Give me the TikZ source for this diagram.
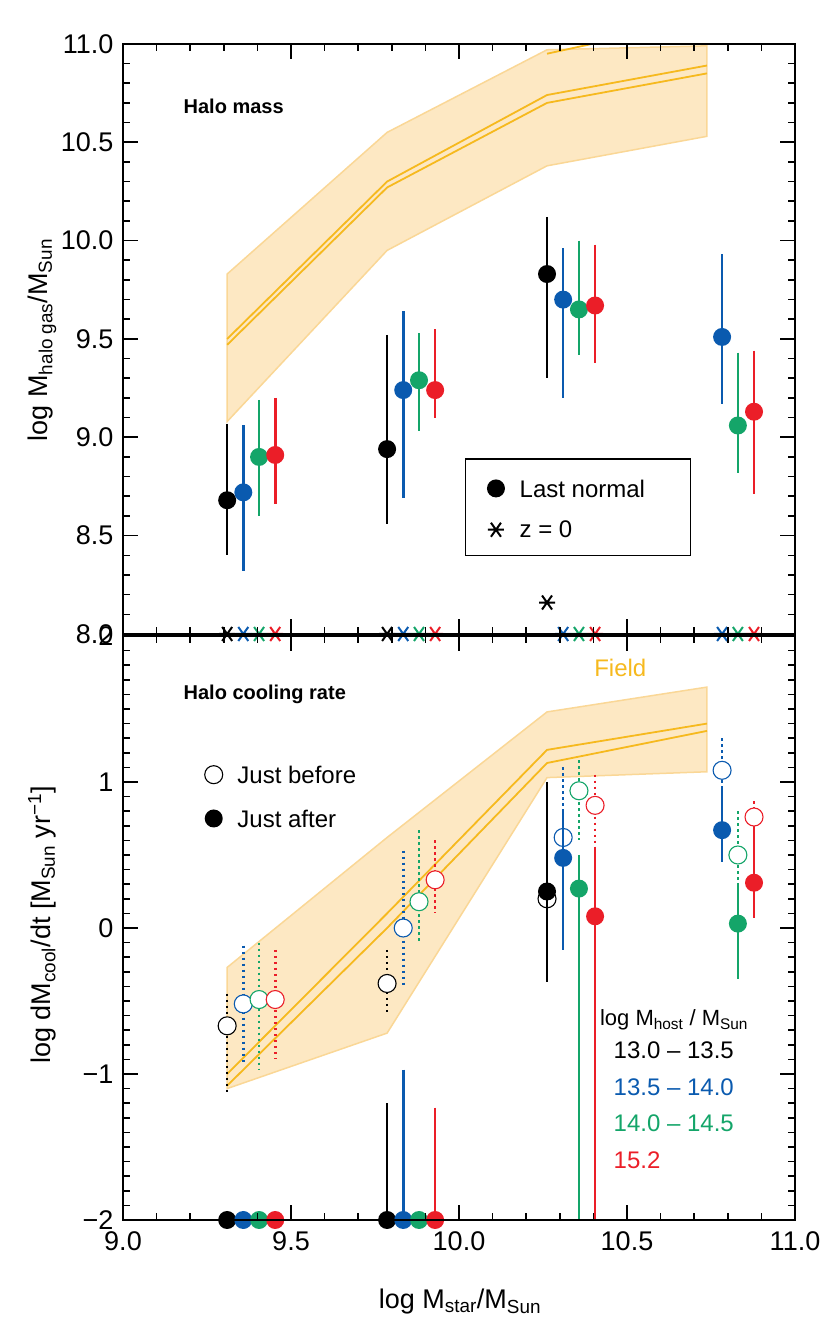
\documentclass[tikz,border=0pt]{standalone}
\usepackage{fontspec}
\setmainfont{Liberation Sans}
\begin{document}
\begin{tikzpicture}[x=1pt,y=1pt,
  eb/.style={line width=2.6pt},
  ebd/.style={line width=2.6pt, dash pattern=on 2.6pt off 3.4pt},
  tick/.style={line width=1.6pt},
  fieldline/.style={draw=fline, line width=1.8pt},
  lab/.style={font=\fontsize{27}{27}\selectfont},
  bold/.style={font=\fontsize{20}{20}\selectfont\bfseries}]
\definecolor{blu}{RGB}{10,90,175}
\definecolor{grn}{RGB}{20,165,105}
\definecolor{rd}{RGB}{235,30,40}
\definecolor{fline}{RGB}{246,185,30}
\definecolor{fband}{RGB}{253,232,195}
\definecolor{fedge}{RGB}{250,215,150}
\useasboundingbox (0,0) rectangle (830,1329);
\newcommand\fc[3]{\fill[#1] (#2,#3) circle[radius=9pt];}
\newcommand\oc[3]{\draw[#1,line width=1.1pt,fill=white] (#2,#3) circle[radius=9pt];}
\newcommand\astk[3]{\draw[#1,line width=2pt] (#2,#3) ++(-8pt,0) -- ++(16pt,0) (#2,#3) ++(-5pt,-7pt) -- ++(10pt,14pt) (#2,#3) ++(-5pt,7pt) -- ++(10pt,-14pt);}
\newcommand\sbs[1]{\textsubscript{#1}}
% ===== top panel =====
\begin{scope}[x=336pt,y=196.7pt,shift={(-2901pt,-878.6pt)}]
\begin{scope}
\clip (9,8) rectangle (11,11);
\fill[fband,draw=fedge,line width=1.5pt] (9.310,9.83) -- (9.786,10.55) -- (10.262,10.97) -- (10.738,10.99) -- (10.738,10.53) -- (10.262,10.38) -- (9.786,9.95) -- (9.310,9.08) -- cycle;
\draw[fieldline] (9.310,9.47) -- (9.786,10.27) -- (10.262,10.70) -- (10.738,10.85);
\draw[fieldline] (9.310,9.50) -- (9.786,10.30) -- (10.262,10.74) -- (10.738,10.89);
\draw[fieldline] (10.262,10.95) -- (10.45,11.02);
\end{scope}
\foreach \x/\y/\a/\b/\c in {9.310/8.68/9.07/8.40/black,9.358/8.72/9.06/8.32/blu,9.405/8.90/9.19/8.60/grn,9.453/8.91/9.20/8.66/rd,
 9.786/8.94/9.52/8.56/black,9.834/9.24/9.64/8.69/blu,9.881/9.29/9.53/9.03/grn,9.929/9.24/9.55/9.10/rd,
 10.262/9.83/10.12/9.30/black,10.310/9.70/9.96/9.20/blu,10.357/9.65/10.00/9.42/grn,10.405/9.67/9.98/9.38/rd,
 10.783/9.51/9.93/9.17/blu,10.830/9.06/9.43/8.82/grn,10.878/9.13/9.44/8.71/rd}
 {\draw[eb,\c] (\x,\a) -- (\x,\b); \fc{\c}{\x}{\y}}
\foreach \x/\y/\c in {9.310/8.0/black,9.358/8.0/blu,9.405/8.0/grn,9.453/8.0/rd,9.786/8.0/black,9.834/8.0/blu,9.881/8.0/grn,9.929/8.0/rd,
 10.262/8.16/black,10.310/8.0/blu,10.357/8.0/grn,10.405/8.0/rd,10.783/8.0/blu,10.830/8.0/grn,10.878/8.0/rd}
 {\astk{\c}{\x}{\y}}
\draw[line width=1.6pt] (9,8) rectangle (11,11);
\foreach \x in {9.0,9.1,...,11.01} {\draw[tick] (\x,8) -- ++(0,7pt); \draw[tick] (\x,11) -- ++(0,-7pt);}
\foreach \x in {9.0,9.5,10.0,10.5,11.0} {\draw[tick] (\x,8) -- ++(0,15pt); \draw[tick] (\x,11) -- ++(0,-15pt);}
\foreach \y in {8.0,8.1,...,11.01} {\draw[tick] (9,\y) -- ++(7pt,0); \draw[tick] (11,\y) -- ++(-7pt,0);}
\foreach \y in {8.0,8.5,...,11.01} {\draw[tick] (9,\y) -- ++(15pt,0); \draw[tick] (11,\y) -- ++(-15pt,0);}
\foreach \y/\t in {8.0/8.0,8.5/8.5,9.0/9.0,9.5/9.5,10.0/10.0,10.5/10.5,11.0/11.0} {\node[lab,anchor=east] (ty\t) at ([xshift=-6pt]9,\y) {\t};}
\node[bold,anchor=west] (hm) at (9.17,10.68) {Halo mass};
\draw[line width=1.2pt] (10.02,8.40) rectangle (10.69,8.89);
\fc{black}{10.11}{8.74}
\node[anchor=west,font=\fontsize{24}{24}\selectfont] (ln) at (10.17,8.74) {Last normal};
\astk{black}{10.11}{8.53}
\node[anchor=west,font=\fontsize{24}{24}\selectfont] (z0) at (10.17,8.53) {z = 0};
\end{scope}
% ===== bottom panel =====
\begin{scope}[x=336pt,y=146pt,shift={(-2901pt,401pt)}]
\begin{scope}
\clip (9,-2) rectangle (11,2);
\fill[fband,draw=fedge,line width=1.5pt] (9.310,-0.27) -- (9.786,0.62) -- (10.262,1.48) -- (10.738,1.65) -- (10.738,1.07) -- (10.262,1.03) -- (9.786,-0.72) -- (9.310,-1.10) -- cycle;
\draw[fieldline] (9.310,-1.00) -- (9.786,0.10) -- (10.262,1.22) -- (10.738,1.40);
\draw[fieldline] (9.310,-1.08) -- (9.786,0.00) -- (10.262,1.13) -- (10.738,1.35);
\end{scope}
\foreach \x/\y/\a/\b/\c in {9.310/-0.67/-0.45/-1.12/black,9.358/-0.52/-0.12/-0.93/blu,9.405/-0.49/-0.10/-0.97/grn,9.453/-0.49/-0.15/-0.90/rd,
 9.786/-0.38/-0.15/-0.60/black,9.834/0.00/0.53/-0.40/blu,9.881/0.18/0.67/-0.10/grn,9.929/0.33/0.60/0.10/rd,
 10.262/0.20/1.00/0.10/black,10.310/0.62/1.10/0.30/blu,10.357/0.94/1.15/0.60/grn,10.405/0.84/1.05/0.55/rd,
 10.783/1.08/1.30/0.85/blu,10.830/0.50/0.80/0.30/grn,10.878/0.76/0.87/0.50/rd}
 {\draw[ebd,\c] (\x,\a) -- (\x,\b); \oc{\c}{\x}{\y}}
\foreach \x/\a/\b/\c in {9.786/-1.20/-2/black,9.834/-0.97/-2/blu,9.929/-1.23/-2/rd,
 10.262/1.00/-0.37/black,10.310/0.80/-0.15/blu,10.357/0.50/-2/grn,10.405/0.55/-2/rd,
 10.783/0.95/0.45/blu,10.830/0.30/-0.35/grn,10.878/0.70/0.07/rd}
 {\draw[eb,\c] (\x,\a) -- (\x,\b);}
\foreach \x/\y/\c in {9.310/-2/black,9.358/-2/blu,9.405/-2/grn,9.453/-2/rd,9.786/-2/black,9.834/-2/blu,9.881/-2/grn,9.929/-2/rd,
 10.262/0.25/black,10.310/0.48/blu,10.357/0.27/grn,10.405/0.08/rd,10.783/0.67/blu,10.830/0.03/grn,10.878/0.31/rd}
 {\fc{\c}{\x}{\y}}
\draw[line width=1.6pt] (9,-2) rectangle (11,2);
\foreach \x in {9.0,9.1,...,11.01} {\draw[tick] (\x,-2) -- ++(0,7pt); \draw[tick] (\x,2) -- ++(0,-7pt);}
\foreach \x in {9.0,9.5,10.0,10.5,11.0} {\draw[tick] (\x,-2) -- ++(0,15pt); \draw[tick] (\x,2) -- ++(0,-15pt);}
\foreach \y in {-2.0,-1.9,...,2.01} {\draw[tick] (9,\y) -- ++(7pt,0); \draw[tick] (11,\y) -- ++(-7pt,0);}
\foreach \y in {-2,-1,0,1,2} {\draw[tick] (9,\y) -- ++(15pt,0); \draw[tick] (11,\y) -- ++(-15pt,0);}
\foreach \y/\t in {-2/−2,-1/−1,0/0,1/1,2/2} {\node[lab,anchor=east] (by\y) at ([xshift=-6pt]9,\y) {\t};}
\foreach \x/\t in {9.0/9.0,9.5/9.5,10.0/10.0,10.5/10.5,11.0/11.0} {\node[lab,anchor=north] (bx\t) at ([yshift=-8pt]\x,-2) {\t};}
\node[bold,anchor=west] (hc) at (9.17,1.60) {Halo cooling rate};
\node[text=fline,font=\fontsize{24}{24}\selectfont] (fld) at (10.48,1.78) {Field};
\oc{black}{9.27}{1.05}
\node[anchor=west,font=\fontsize{24}{24}\selectfont] (jb) at (9.33,1.05) {Just before};
\fc{black}{9.27}{0.75}
\node[anchor=west,font=\fontsize{24}{24}\selectfont] (ja) at (9.33,0.75) {Just after};
\node[font=\fontsize{22}{22}\selectfont] (lh) at (10.64,-0.63) {log M\sbs{host} / M\sbs{Sun}};
\node[anchor=west,font=\fontsize{24}{24}\selectfont] (r1) at (10.45,-0.84) {13.0 – 13.5};
\node[anchor=west,font=\fontsize{24}{24}\selectfont,text=blu] (r2) at (10.45,-1.09) {13.5 – 14.0};
\node[anchor=west,font=\fontsize{24}{24}\selectfont,text=grn] (r3) at (10.45,-1.34) {14.0 – 14.5};
\node[anchor=west,font=\fontsize{24}{24}\selectfont,text=rd] (r4) at (10.45,-1.59) {15.2};
\end{scope}
\node[lab,rotate=90] (yl1) at (42,989) {log M\sbs{halo gas}/M\sbs{Sun}};
\node[lab,rotate=90] (yl2) at (42,404) {log dM\sbs{cool}/dt [M\sbs{Sun} yr\textsuperscript{−1}]};
\node[lab] (xl) at (460,27) {log M\sbs{star}/M\sbs{Sun}};
\end{tikzpicture}
\end{document}
